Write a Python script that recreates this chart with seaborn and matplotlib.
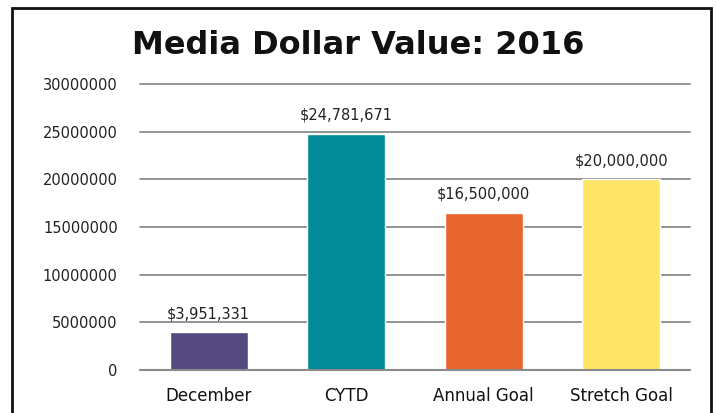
import matplotlib
matplotlib.use("Agg")
import matplotlib.pyplot as plt
import seaborn as sns
import pandas as pd
from matplotlib.patches import Rectangle

categories = ["December", "CYTD", "Annual Goal", "Stretch Goal"]
values = [3951331, 24781671, 16500000, 20000000]
bar_labels = ["$3,951,331", "$24,781,671", "$16,500,000", "$20,000,000"]
colors = ["#554A80", "#008B96", "#E8662D", "#FFE566"]
yticks = [0, 5000000, 10000000, 15000000, 20000000, 25000000, 30000000]

sns.set_theme(style="white")
plt.rcParams['font.family'] = ['DejaVu Sans']

fig = plt.figure(figsize=(7.16, 4.13), dpi=100)
ax = fig.add_axes([140/716, 1 - 370/413, 550/716, (370 - 84)/413])

df = pd.DataFrame({"cat": categories, "val": values})
sns.barplot(data=df, x="cat", y="val", hue="cat", palette=colors,
            width=0.57, legend=False, ax=ax, saturation=1, zorder=3)

ax.set_ylim(0, 30000000)
ax.set_yticks(yticks)
ax.set_yticklabels([str(t) for t in yticks], fontsize=10.5, color="#222222")
ax.yaxis.grid(True, color="#8a8a8a", linewidth=1.3, zorder=0)
for gl in ax.get_ygridlines():
    gl.set_clip_on(False)
ax.set_axisbelow(True)
for s in ax.spines.values():
    s.set_visible(False)
ax.axhline(0, color="#8a8a8a", linewidth=1.5, zorder=4, clip_on=False)
ax.tick_params(axis="y", length=0, pad=16)
ax.tick_params(axis="x", length=0, pad=12, labelsize=12, labelcolor="#111111")
ax.set_xlabel("")
ax.set_ylabel("")

for i, (v, lab) in enumerate(zip(values, bar_labels)):
    ax.annotate(lab, (i, v), xytext=(0, 8), textcoords="offset points",
                ha="center", va="bottom", fontsize=10.5, color="#222222")

fig.text(0.5, 1 - 45/413, "Media Dollar Value: 2016", ha="center", va="center",
         fontsize=23, fontweight="bold", color="#111111")

fig.patches.append(Rectangle((12/716, -0.05), (711 - 12)/716, 1.05 - 8/413,
                             transform=fig.transFigure, fill=False,
                             edgecolor="#111111", linewidth=2))

fig.savefig("out.png", dpi=100)
